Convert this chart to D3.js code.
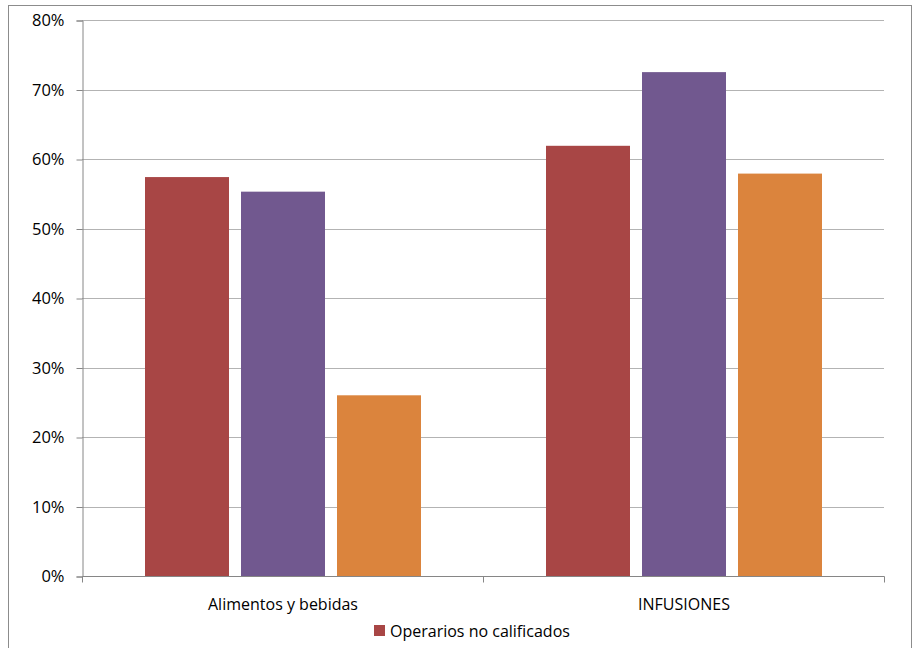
<!DOCTYPE html>
<html><head><meta charset="utf-8">
<script src="https://cdn.jsdelivr.net/npm/d3@7"></script>
<style>body{margin:0;background:#fff}svg{display:block}text{font-family:"Open Sans",sans-serif;fill:#000}</style>
</head><body><svg id="c" width="913" height="648"></svg>
<script>
const categories = ["Alimentos y bebidas", "INFUSIONES"];
const seriesNames = ["Operarios no calificados", "Serie 2", "Serie 3"];
const seriesColors = ["#A84645", "#71588F", "#DB843D"];
const values = [
  [0.574, 0.619],
  [0.553, 0.725],
  [0.260, 0.579]
];
const yTicks = [0, 0.1, 0.2, 0.3, 0.4, 0.5, 0.6, 0.7, 0.8];
const legendShown = [0];

const FONT = "'Open Sans', sans-serif";
const FS = 16;
const svg = d3.select("#c");
const L = 82, R = 884, T = 20, B = 576;
svg.append("rect").attr("x", 8.5).attr("y", 5.5).attr("width", 903).attr("height", 660)
  .attr("fill", "#fff").attr("stroke", "#8c8c8c").attr("stroke-width", 1);

const y = d3.scaleLinear().domain([0, 0.8]).range([B, T]);
const x0 = d3.scaleBand().domain(categories).range([L, R]).paddingInner(0).paddingOuter(0);
const x1 = d3.scaleBand().domain(d3.range(seriesNames.length)).range([63, 339])
  .paddingInner(0.125).paddingOuter(0);

// gridlines
svg.append("g").selectAll("line").data(yTicks.filter(d => d > 0)).join("line")
  .attr("x1", L).attr("x2", R).attr("y1", d => Math.round(y(d)) + 0.5).attr("y2", d => Math.round(y(d)) + 0.5)
  .attr("stroke", "#b3b3b3").attr("stroke-width", 1);

// bars
const g = svg.append("g");
categories.forEach((c, ci) => {
  seriesNames.forEach((s, si) => {
    g.append("rect")
      .attr("x", x0(c) + x1(si)).attr("width", x1.bandwidth())
      .attr("y", y(values[si][ci])).attr("height", B - y(values[si][ci]))
      .attr("fill", seriesColors[si]);
  });
});

// y axis
const yAxis = d3.axisLeft(y).tickValues(yTicks).tickFormat(d3.format(".0%")).tickSize(6).tickPadding(12);
const ya = svg.append("g").attr("transform", `translate(${L + 0.5},0.5)`).call(yAxis);
ya.select(".domain").attr("stroke", "#868686");
ya.selectAll(".tick line").attr("stroke", "#868686");
ya.selectAll("text").attr("font-size", 16.5).attr("font-family", FONT).attr("fill", "#000");

// x axis
const xa = svg.append("g").attr("transform", `translate(0.5,${B + 0.5})`)
  .call(d3.axisBottom(x0).tickSize(0).tickPadding(22));
xa.select(".domain").attr("stroke", "#868686").attr("d", `M${L},0H${R}`);
xa.selectAll("text").attr("font-size", FS).attr("font-family", FONT).attr("fill", "#000");
xa.append("g").selectAll("line").data([L, x0(categories[1]), R]).join("line")
  .attr("x1", d => d).attr("x2", d => d).attr("y1", 0).attr("y2", 6).attr("stroke", "#868686");

// legend
const lg = svg.append("g").attr("transform", "translate(374,625)");
legendShown.forEach((si, i) => {
  lg.append("rect").attr("x", 0).attr("y", 0).attr("width", 11).attr("height", 11).attr("fill", seriesColors[si]);
  lg.append("text").attr("x", 16).attr("y", 11.5).attr("font-size", FS).attr("font-family", FONT).text(seriesNames[si]);
});
</script></body></html>
